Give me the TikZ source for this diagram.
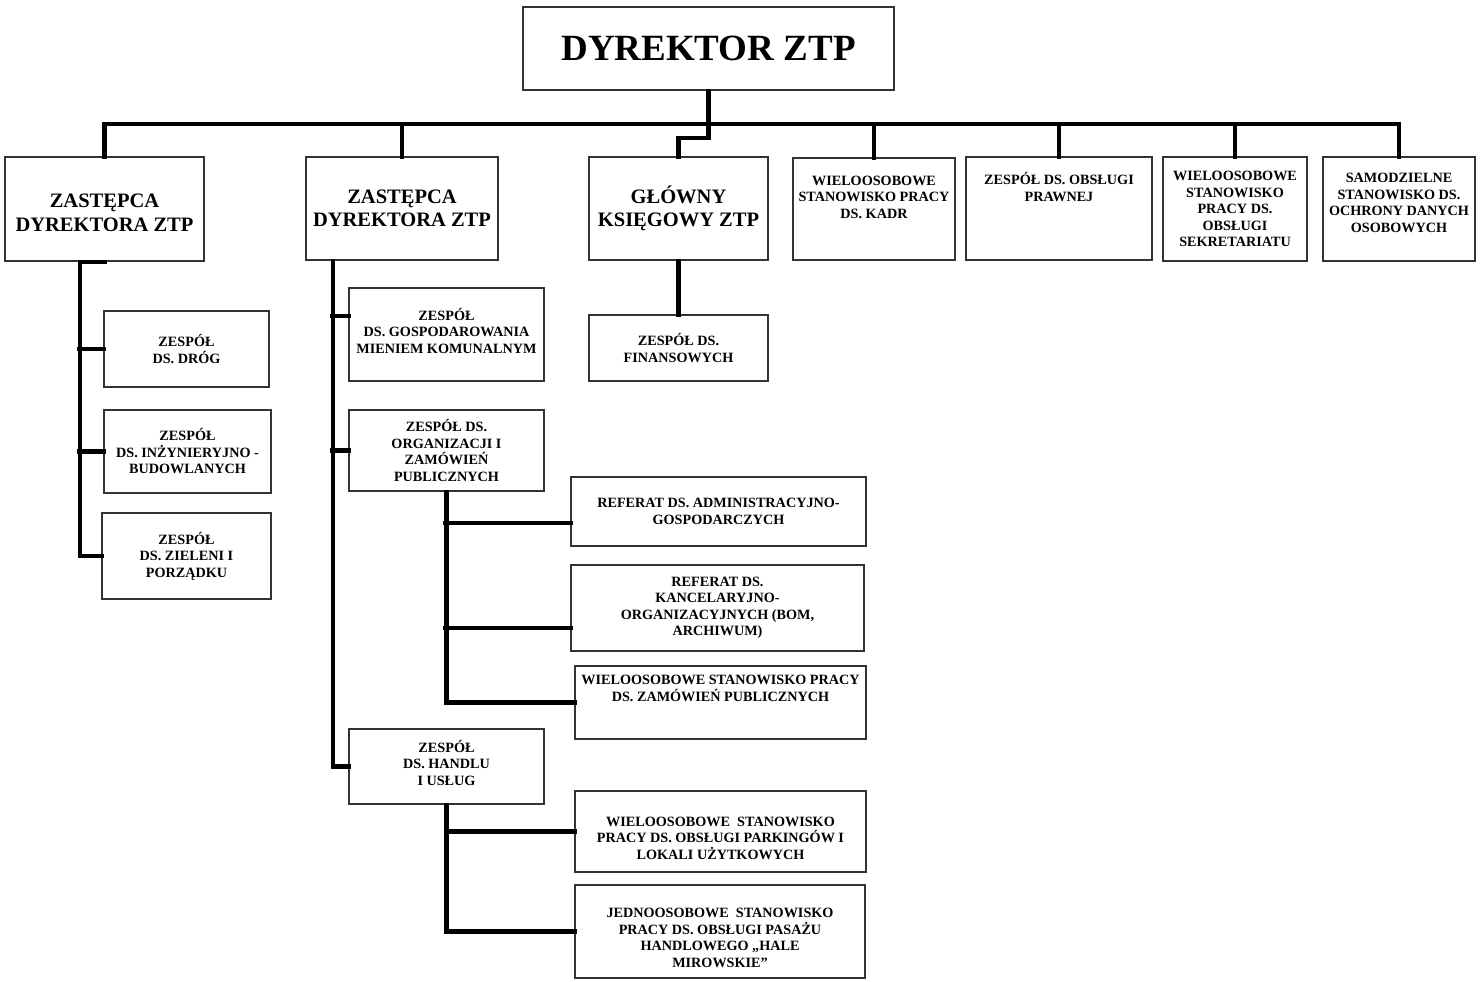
\documentclass[tikz,border=0pt]{standalone}
\usepackage{fontspec}
\setmainfont{Liberation Serif}
\usetikzlibrary{positioning, calc}

\begin{document}
\begin{tikzpicture}[
        x=1pt, y=-1pt,
        box/.style={rectangle, draw=black!80, line width=1.5pt, inner sep=0pt, align=center, font=\bfseries\fontsize{14.2}{16.5}\selectfont},
        headbox/.style={box, font=\bfseries\fontsize{20.5}{23.5}\selectfont},
        boxsize/.style 2 args={minimum width=#1, minimum height=#2},
        toptext/.style 2 args={text height=#1, text depth=#2},
        conn/.style={line width=4.5pt, line cap=rect}
    ]
        \useasboundingbox (0,0) rectangle (1480,982);

        % top level
        \node[box, boxsize={371pt}{83pt}, font=\bfseries\fontsize{37}{44}\selectfont] (dyr) at (708.5,48.5) {DYREKTOR ZTP};

        \node[headbox, boxsize={199pt}{104pt}, toptext={74pt}{30pt}] (zast1) at (104.5,209) {ZASTĘPCA\\DYREKTORA ZTP};
        \node[headbox, boxsize={192pt}{103pt}] (zast2) at (402,208.5) {ZASTĘPCA\\DYREKTORA ZTP};
        \node[headbox, boxsize={179pt}{103pt}] (gk) at (678.5,208.5) {GŁÓWNY\\KSIĘGOWY ZTP};
        \node[box, boxsize={162pt}{102pt}, toptext={60pt}{42pt}] (kadr) at (874,209) {WIELOOSOBOWE\\STANOWISKO PRACY\\DS. KADR};
        \node[box, boxsize={186pt}{103pt}, toptext={44pt}{59pt}] (prawna) at (1059,208.5) {ZESPÓŁ DS. OBSŁUGI\\PRAWNEJ};
        \node[box, boxsize={144pt}{104pt}] (sekr) at (1235,209) {WIELOOSOBOWE\\STANOWISKO\\PRACY DS.\\OBSŁUGI\\SEKRETARIATU};
        \node[box, boxsize={152pt}{104pt}, toptext={75pt}{29pt}] (odo) at (1399,209) {SAMODZIELNE\\STANOWISKO DS.\\OCHRONY DANYCH\\OSOBOWYCH};

        % left branch
        \node[box, boxsize={165pt}{76pt}] (drogi) at (186.5,349) {ZESPÓŁ\\DS. DRÓG};
        \node[box, boxsize={167pt}{83pt}] (inz) at (187.5,451.5) {ZESPÓŁ\\DS. INŻYNIERYJNO -\\BUDOWLANYCH};
        \node[box, boxsize={169pt}{86pt}] (ziel) at (186.5,556) {ZESPÓŁ\\DS. ZIELENI I\\PORZĄDKU};

        % middle branch
        \node[box, boxsize={195pt}{93pt}, toptext={65pt}{28pt}] (mienie) at (446.5,334.5) {ZESPÓŁ\\DS. GOSPODAROWANIA\\MIENIEM KOMUNALNYM};
        \node[box, boxsize={195pt}{81pt}] (org) at (446.5,450.5) {ZESPÓŁ DS.\\ORGANIZACJI I\\ZAMÓWIEŃ\\PUBLICZNYCH};
        \node[box, boxsize={195pt}{75pt}, toptext={56pt}{19pt}] (handel) at (446.5,766.5) {ZESPÓŁ\\DS. HANDLU\\I USŁUG};

        \node[box, boxsize={295pt}{69pt}] (refadm) at (718.5,511.5) {REFERAT DS. ADMINISTRACYJNO-\\GOSPODARCZYCH};
        \node[box, boxsize={293pt}{86pt}] (refkanc) at (717.5,608) {REFERAT DS.\\KANCELARYJNO-\\ORGANIZACYJNYCH (BOM,\\ARCHIWUM)};
        \node[box, boxsize={291pt}{73pt}, toptext={35pt}{38pt}] (wzp) at (720.5,702.5) {WIELOOSOBOWE STANOWISKO PRACY\\DS. ZAMÓWIEŃ PUBLICZNYCH};

        \node[box, boxsize={291pt}{81pt}, toptext={68pt}{13pt}] (park) at (720.5,831.5) {WIELOOSOBOWE\ \ STANOWISKO\\PRACY DS. OBSŁUGI PARKINGÓW I\\LOKALI UŻYTKOWYCH};
        \node[box, boxsize={290pt}{93pt}, toptext={82pt}{11pt}] (pasaz) at (720,931.5) {JEDNOOSOBOWE\ \ STANOWISKO\\PRACY DS. OBSŁUGI PASAŻU\\HANDLOWEGO „HALE\\MIROWSKIE”};

        % accounting branch
        \node[box, boxsize={179pt}{66pt}] (fin) at (678.5,348) {ZESPÓŁ DS.\\FINANSOWYCH};

        % connectors
        \coordinate (bus) at (0,124);
        \draw[conn] (dyr.south) -- (dyr.south |- bus) -- ++(0,14) -| (gk.north);
        \draw[conn] (zast1.north) |- (bus -| odo.north) -- (odo.north);
        \foreach \n in {zast2, kadr, prawna, sekr}
            \draw[conn] (\n.north) -- (\n.north |- bus);

        \draw[conn] (zast1.south) -- ++(-24.5,0) |- (ziel.west);
        \draw[conn] (drogi.west) -- ++(-24,0);
        \draw[conn] (inz.west) -- ++(-24,0);

        \draw[conn] ([xshift=-69pt]zast2.south) |- (handel.west);
        \draw[conn] ([yshift=18.5pt]mienie.west) -- ++(-16,0);
        \draw[conn] (org.west) -- ++(-16,0);

        \draw[conn] (org.south) |- (wzp.west);
        \draw[conn] ([yshift=-11.5pt]refadm.west) -- ++(-125,0);
        \draw[conn] ([yshift=-20pt]refkanc.west) -- ++(-125,0);

        \draw[conn] (handel.south) |- (pasaz.west);
        \draw[conn] (park.west) -- ++(-128.5,0);

        \draw[conn] (gk.south) -- (fin.north);
    \end{tikzpicture}
\end{document}
